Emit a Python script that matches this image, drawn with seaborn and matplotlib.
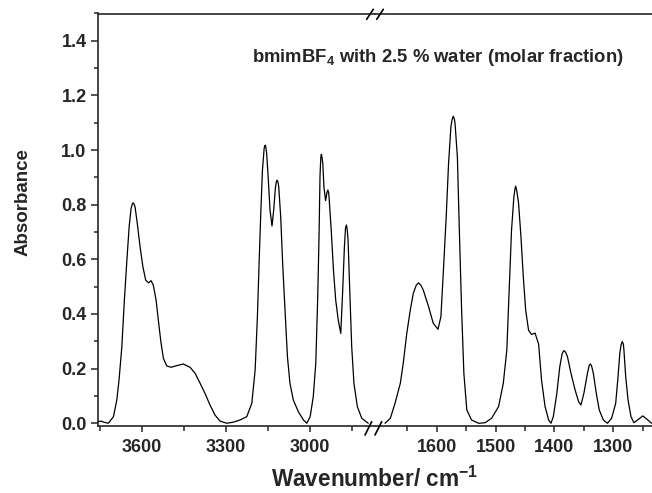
import numpy as np
import pandas as pd
import matplotlib
matplotlib.use("Agg")
import matplotlib.pyplot as plt
from matplotlib.lines import Line2D
from matplotlib.ticker import MultipleLocator, FixedLocator, FormatStrFormatter
import seaborn as sns

# IR spectrum of bmimBF4 with 2.5 % water, high-wavenumber region (cm-1, absorbance)
wn_high = [3755, 3745, 3735, 3719, 3701, 3689, 3681, 3671, 3662, 3653, 3645, 3638,
           3634, 3631, 3628, 3624, 3616, 3606, 3596, 3586, 3576, 3567, 3559, 3549,
           3541, 3532, 3523, 3511, 3496, 3475, 3452, 3428, 3410, 3392, 3375, 3357,
           3339, 3321, 3297, 3274, 3250, 3226, 3208, 3196, 3188, 3182, 3176, 3170,
           3164, 3162, 3160, 3158, 3155, 3149, 3143, 3136, 3130, 3124, 3121, 3118,
           3115, 3112, 3105, 3098, 3089, 3081, 3072, 3060, 3042, 3024, 3012, 3000,
           2989, 2980, 2973, 2968, 2965, 2962, 2960, 2958, 2955, 2951, 2945, 2940,
           2937, 2934, 2932, 2925, 2917, 2909, 2900, 2891, 2884, 2878, 2874, 2871,
           2868, 2865, 2859, 2852, 2844, 2832, 2816, 2793]
abs_high = [0.006, 0.008, 0.004, 0.000, 0.024, 0.085, 0.158, 0.280, 0.451, 0.597, 0.719, 0.787,
            0.802, 0.807, 0.803, 0.793, 0.732, 0.646, 0.573, 0.524, 0.514, 0.522, 0.506, 0.451,
            0.378, 0.299, 0.238, 0.210, 0.205, 0.211, 0.217, 0.205, 0.183, 0.146, 0.110, 0.067,
            0.030, 0.008, 0.000, 0.004, 0.012, 0.024, 0.073, 0.195, 0.390, 0.585, 0.768, 0.927,
            1.006, 1.015, 1.018, 1.010, 0.988, 0.890, 0.780, 0.722, 0.780, 0.860, 0.882, 0.890,
            0.884, 0.866, 0.756, 0.585, 0.402, 0.244, 0.146, 0.085, 0.042, 0.012, 0.000, 0.024,
            0.097, 0.220, 0.463, 0.707, 0.903, 0.975, 0.985, 0.975, 0.951, 0.866, 0.815, 0.845,
            0.854, 0.843, 0.817, 0.707, 0.561, 0.451, 0.378, 0.329, 0.488, 0.646, 0.715, 0.726,
            0.710, 0.671, 0.488, 0.280, 0.146, 0.061, 0.018, 0.000]

# fingerprint region
wn_low = [1688, 1679, 1671, 1662, 1657, 1651, 1645, 1640, 1635, 1631, 1627, 1623,
          1614, 1606, 1598, 1593, 1589, 1584, 1580, 1576, 1574, 1572, 1570, 1569,
          1565, 1562, 1558, 1554, 1549, 1541, 1529, 1518, 1507, 1495, 1487, 1481,
          1477, 1473, 1469, 1467, 1466, 1464, 1461, 1457, 1453, 1449, 1444, 1439,
          1433, 1427, 1422, 1416, 1410, 1406, 1402, 1396, 1391, 1387, 1384, 1381,
          1378, 1372, 1365, 1359, 1355, 1350, 1344, 1341, 1339, 1337, 1334, 1329,
          1324, 1317, 1310, 1303, 1296, 1292, 1289, 1287, 1285, 1283, 1282, 1279,
          1275, 1270, 1265, 1257, 1250, 1243, 1235]
abs_low = [0.000, 0.018, 0.073, 0.146, 0.220, 0.329, 0.415, 0.475, 0.505, 0.514, 0.505, 0.488,
           0.427, 0.366, 0.344, 0.390, 0.549, 0.756, 0.951, 1.085, 1.112, 1.124, 1.112, 1.098,
           0.975, 0.732, 0.427, 0.183, 0.049, 0.012, 0.000, 0.002, 0.018, 0.061, 0.146, 0.268,
           0.488, 0.707, 0.829, 0.860, 0.868, 0.850, 0.805, 0.683, 0.536, 0.415, 0.340, 0.325,
           0.330, 0.290, 0.158, 0.061, 0.012, 0.000, 0.024, 0.110, 0.207, 0.255, 0.266, 0.260,
           0.244, 0.183, 0.122, 0.079, 0.067, 0.110, 0.183, 0.212, 0.217, 0.210, 0.183, 0.110,
           0.049, 0.012, 0.000, 0.018, 0.073, 0.171, 0.256, 0.285, 0.299, 0.290, 0.268, 0.171,
           0.085, 0.024, 0.002, 0.015, 0.027, 0.015, 0.000]

y_ticks = [0.0, 0.2, 0.4, 0.6, 0.8, 1.0, 1.2, 1.4]
x_major_high = [3600, 3300, 3000]
x_minor_high = [3750, 3450, 3150, 2850]
x_major_low = [1600, 1500, 1400, 1300]
x_minor_low = [1650, 1550, 1450, 1350, 1250]

sns.set_style("ticks")
plt.rcParams["font.family"] = ["Liberation Sans", "DejaVu Sans"]
plt.rcParams["font.weight"] = "bold"
plt.rcParams["mathtext.default"] = "regular"

W, H = 652, 493
fig = plt.figure(figsize=(W / 100, H / 100), dpi=100)

def fx(px):
    return px / W

def fy(py):
    return 1 - py / H

bottom, top = fy(426), fy(13.5)
ax1 = fig.add_axes([fx(97.7), bottom, fx(375) - fx(97.7), top - bottom])
ax2 = fig.add_axes([fx(375), bottom, fx(652) - fx(375), top - bottom])

df_high = pd.DataFrame({"wn": wn_high, "A": abs_high})
df_low = pd.DataFrame({"wn": wn_low, "A": abs_low})
sns.lineplot(data=df_high, x="wn", y="A", ax=ax1, color="black", lw=0.9, estimator=None)
sns.lineplot(data=df_low, x="wn", y="A", ax=ax2, color="black", lw=0.9, estimator=None)

ax1.set_xlim(3757, 2769)
ax2.set_xlim(1705, 1234.3)
for ax in (ax1, ax2):
    ax.set_ylim(-0.01, 1.5)
    ax.set_xlabel("")
    ax.set_ylabel("")
    for s in ax.spines.values():
        s.set_linewidth(1.2)
    ax.tick_params(axis="x", which="major", direction="out", length=4, width=1.1,
                   pad=5, labelsize=13)
    ax.tick_params(axis="x", which="minor", direction="out", length=3.5, width=1.1)

ax1.spines["right"].set_visible(False)
ax2.spines["left"].set_visible(False)
ax2.spines["right"].set_visible(False)

ax1.xaxis.set_major_locator(FixedLocator(x_major_high))
ax1.xaxis.set_minor_locator(FixedLocator(x_minor_high))
ax2.xaxis.set_major_locator(FixedLocator(x_major_low))
ax2.xaxis.set_minor_locator(FixedLocator(x_minor_low))

ax1.yaxis.set_major_locator(FixedLocator(y_ticks))
ax1.yaxis.set_minor_locator(MultipleLocator(0.1))
ax1.yaxis.set_major_formatter(FormatStrFormatter("%.1f"))
ax1.tick_params(axis="y", which="major", direction="out", length=5, width=1.1,
                pad=3, labelsize=13)
ax1.tick_params(axis="y", which="minor", direction="out", length=3, width=1.1)
ax2.tick_params(axis="y", which="both", left=False, labelleft=False)

for ax in (ax1, ax2):
    for lab in ax.get_xticklabels() + ax.get_yticklabels():
        lab.set_fontweight("bold")

# axis-break marks on the bottom and top spines
breaks = [((365, 435), (371.7, 421.7)), ((375, 435), (381.7, 421.7)),
          ((366.7, 19.3), (373.3, 9.3)), ((376.7, 19.3), (383.3, 9.3))]
for (x0, y0), (x1, y1) in breaks:
    fig.add_artist(Line2D([fx(x0), fx(x1)], [fy(y0), fy(y1)], color="black",
                          lw=1.2, transform=fig.transFigure))

fig.text(fx(251.7), fy(61.7), "bmimBF$_4$ with 2.5 % water (molar fraction)",
         ha="left", va="baseline", fontsize=13.3, fontweight="bold")
fig.text(fx(375), fy(487), "Wavenumber/ cm$^{-1}$", ha="center", va="baseline",
         fontsize=16.3, fontweight="bold")
fig.text(fx(23.5), fy(202), "Absorbance", rotation=90, ha="center", va="center",
         fontsize=13.5, fontweight="bold")

fig.savefig("out.png", dpi=100)
